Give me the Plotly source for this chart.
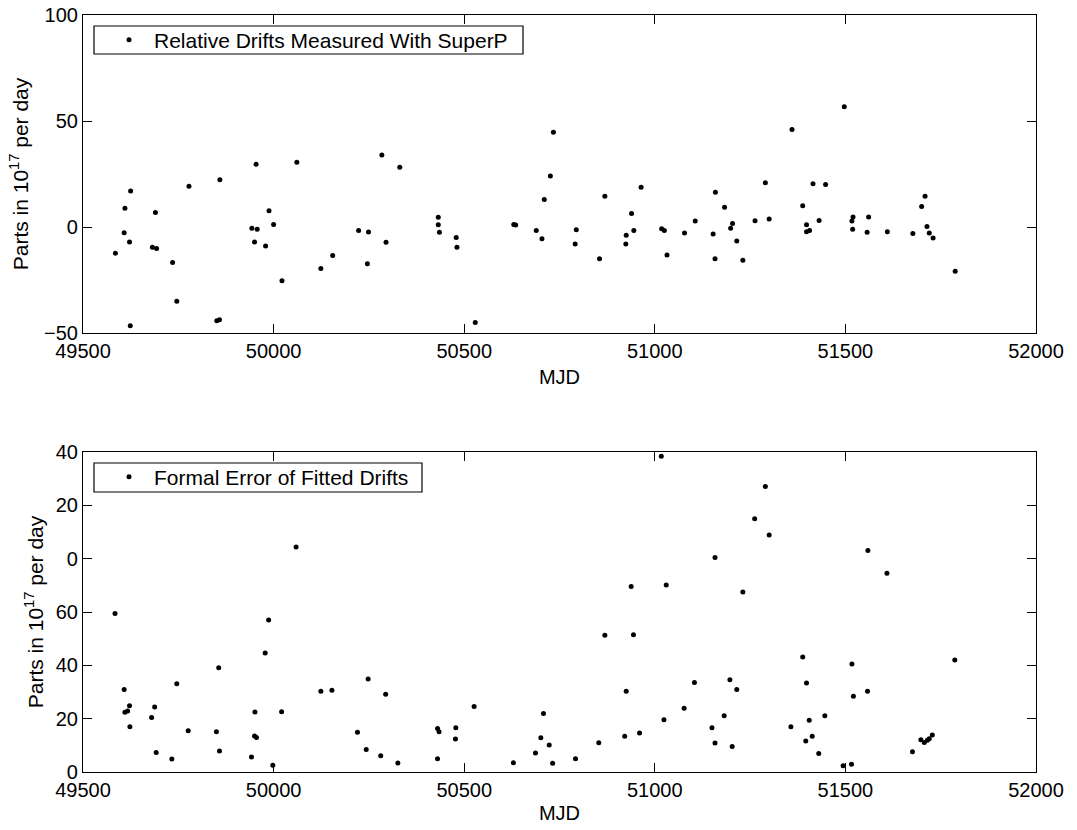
import plotly.graph_objects as go

# ---- data ----
drift_mjd = [49585, 49608, 49610, 49622, 49625, 49624, 49682, 49693, 49690, 49735,
             49746, 49778, 49851, 49858, 49859, 49943, 49950, 49954, 49957, 49979,
             49988, 50000, 50022, 50061, 50124, 50155, 50223, 50246, 50249, 50284,
             50295, 50331, 50432, 50432, 50435, 50479, 50481, 50529, 50630, 50635,
             50689, 50704, 50710, 50726, 50734, 50791, 50794, 50855, 50869, 50924,
             50925, 50939, 50945, 50964, 51018, 51025, 51032, 51078, 51106, 51153,
             51158, 51159, 51183, 51199, 51204, 51215, 51231, 51263, 51290, 51300,
             51360, 51388, 51398, 51398, 51406, 51415, 51431, 51448, 51497, 51517,
             51520, 51519, 51557, 51561, 51610, 51677, 51700, 51709, 51714, 51720,
             51730, 51788]
drift_val = [-12.4, -2.7, 8.8, -7.1, 17.0, -46.6, -9.6, -10.2, 6.8, -16.8,
             -35.0, 19.2, -44.2, -43.8, 22.3, -0.6, -7.1, 29.6, -1.1, -9.0,
             7.7, 1.2, -25.3, 30.5, -19.6, -13.4, -1.6, -17.3, -2.4, 34.0,
             -7.2, 28.2, 4.6, 1.1, -2.5, -5.0, -9.6, -45.0, 1.2, 1.0,
             -1.7, -5.5, 13.0, 24.0, 44.7, -8.0, -1.3, -15.0, 14.5, -8.0,
             -3.9, 6.4, -1.6, 18.7, -0.8, -1.6, -13.2, -2.8, 2.8, -3.3,
             -15.0, 16.4, 9.3, -0.6, 1.6, -6.6, -15.7, 3.0, 20.9, 3.8,
             46.0, 10.0, 1.1, -2.2, -1.6, 20.4, 3.1, 20.1, 56.7, 2.8,
             4.7, -1.1, -2.5, 4.7, -2.2, -3.1, 9.7, 14.5, 0.2, -2.8,
             -5.2, -20.9]

err_mjd = [49584, 49608, 49610, 49617, 49622, 49623, 49680, 49688, 49692, 49733,
           49746, 49776, 49850, 49856, 49858, 49942, 49950, 49955, 49951, 49978,
           49987, 49998, 50021, 50059, 50124, 50153, 50220, 50243, 50248, 50281,
           50294, 50326, 50430, 50434, 50430, 50478, 50477, 50526, 50629, 50687,
           50701, 50708, 50723, 50732, 50792, 50853, 50869, 50921, 50925, 50938,
           50944, 50960, 51017, 51024, 51030, 51077, 51104, 51150, 51158, 51158,
           51182, 51197, 51203, 51215, 51231, 51262, 51290, 51300, 51357, 51388,
           51396, 51398, 51405, 51413, 51430, 51446, 51494, 51516, 51517, 51521,
           51558, 51559, 51609, 51676, 51698, 51707, 51715, 51720, 51728, 51787]
err_val = [59.4, 30.9, 22.4, 22.9, 24.8, 17.0, 20.4, 24.4, 7.3, 4.9,
           33.1, 15.5, 15.1, 39.1, 7.9, 5.6, 13.5, 12.9, 22.5, 44.6,
           57.0, 2.5, 22.6, 84.4, 30.3, 30.7, 14.9, 8.4, 34.9, 6.1,
           29.2, 3.4, 16.3, 15.1, 5.0, 16.6, 12.4, 24.6, 3.5, 7.1,
           12.8, 21.9, 10.1, 3.3, 5.0, 11.0, 51.3, 13.4, 30.3, 69.6,
           51.5, 14.6, 118.4, 19.6, 70.1, 23.9, 33.6, 16.6, 10.9, 80.4,
           21.1, 34.6, 9.6, 30.9, 67.5, 95.0, 107.1, 88.9, 17.0, 43.1,
           11.6, 33.4, 19.4, 13.4, 6.9, 21.1, 2.3, 2.9, 40.5, 28.4,
           30.3, 83.1, 74.5, 7.6, 12.1, 11.1, 11.9, 12.5, 13.9, 42.0]

x_ticks = [49500, 50000, 50500, 51000, 51500, 52000]
drift_yticks = [-50, 0, 50, 100]
err_yticks = [0, 20, 40, 60, 80, 100, 120]
err_yticklabels = ["0", "20", "40", "60", "0", "20", "40"]

drift_name = "Relative Drifts Measured With SuperP"
err_name = "Formal Error of Fitted Drifts"
y_title = "Parts in 10<sup>17</sup> per day"
x_title = "MJD"

FONT = "Liberation Sans, Arial, Helvetica, sans-serif"
FS = 20

# figure geometry (pixels)
W, H = 1077, 830
L, R, T, B = 83, 41, 15, 58
PW, PH = W - L - R, H - T - B


def px_x(p):
    return (p - L) / PW


def px_y(p):
    return (H - B - p) / PH


fig = go.Figure()
fig.add_trace(go.Scatter(x=drift_mjd, y=drift_val, mode="markers", name=drift_name,
                         marker=dict(color="black", size=5), xaxis="x", yaxis="y",
                         legend="legend"))
fig.add_trace(go.Scatter(x=err_mjd, y=err_val, mode="markers", name=err_name,
                         marker=dict(color="black", size=5), xaxis="x2", yaxis="y2",
                         legend="legend2"))

axis_common = dict(showline=True, linecolor="black", linewidth=1.2, mirror="ticks",
                   ticks="inside", ticklen=9, tickwidth=1.1, tickcolor="black",
                   showgrid=False, zeroline=False,
                   tickfont=dict(family=FONT, size=FS, color="black"))

xaxis_common = dict(axis_common, tickformat="d")

legend_common = dict(xanchor="left", yanchor="middle", bordercolor="black", borderwidth=0,
                     bgcolor="rgba(0,0,0,0)", itemsizing="trace", itemwidth=40,
                     font=dict(family=FONT, size=21, color="black"))

fig.update_layout(
    width=W, height=H,
    margin=dict(l=L, r=R, t=T, b=B, autoexpand=False),
    paper_bgcolor="white", plot_bgcolor="white",
    font=dict(family=FONT, size=FS, color="black"),
    xaxis=dict(domain=[0, 1], range=[49500, 52000], tickvals=x_ticks, anchor="y",
               title=dict(text=x_title, standoff=8, font=dict(size=FS)), **xaxis_common),
    yaxis=dict(domain=[px_y(333), 1], range=[-50, 100], tickvals=drift_yticks, anchor="x",
               title=dict(text=y_title, standoff=9, font=dict(size=21)), **axis_common),
    xaxis2=dict(domain=[0, 1], range=[49500, 52000], tickvals=x_ticks, anchor="y2",
                title=dict(text=x_title, standoff=5, font=dict(size=FS)), **xaxis_common),
    yaxis2=dict(domain=[0, px_y(452)], range=[0, 120], tickvals=err_yticks,
                ticktext=err_yticklabels, anchor="x2",
                title=dict(text=y_title, standoff=6, font=dict(size=21)), **axis_common),
    legend=dict(x=px_x(104), y=px_y(40), **legend_common),
    legend2=dict(x=px_x(104), y=px_y(477), **legend_common),
    showlegend=True,
    shapes=[
        dict(type="rect", xref="paper", yref="paper", x0=px_x(94), x1=px_x(523),
             y0=px_y(54), y1=px_y(26), line=dict(color="black", width=1.2)),
        dict(type="rect", xref="paper", yref="paper", x0=px_x(94), x1=px_x(422),
             y0=px_y(492), y1=px_y(463), line=dict(color="black", width=1.2)),
    ],
)

fig.write_html("out.html", config={"displayModeBar": False},
               post_script="document.body.style.margin='0';")
